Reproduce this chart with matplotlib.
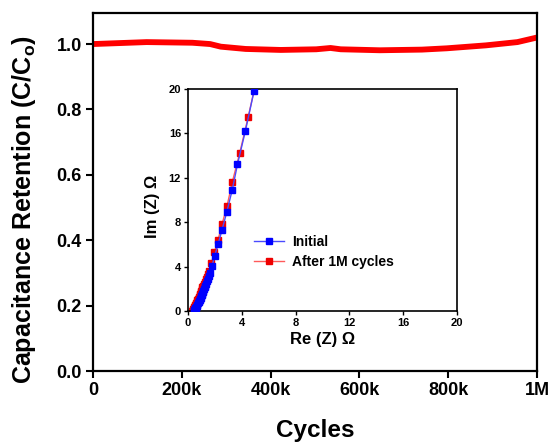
import numpy as np
import matplotlib.pyplot as plt
from matplotlib.ticker import FixedLocator, FixedFormatter

plt.rcParams['font.family'] = ['Liberation Sans', 'DejaVu Sans']
plt.rcParams['font.weight'] = 'bold'
plt.rcParams['mathtext.fontset'] = 'custom'
plt.rcParams['mathtext.bf'] = 'Liberation Sans:bold'
plt.rcParams['mathtext.rm'] = 'Liberation Sans:bold'

# cycling stability
cycles = [0, 121e3, 224e3, 264e3, 288e3, 344e3, 423e3, 503e3, 535e3,
          558e3, 646e3, 741e3, 797e3, 885e3, 956e3, 1000e3]
retention = [1.000, 1.006, 1.004, 1.000, 0.992, 0.985, 0.982, 0.984, 0.988,
             0.984, 0.981, 0.983, 0.987, 0.996, 1.006, 1.020]

# nyquist, initial
re_init = [0.42, 0.46, 0.50, 0.54, 0.58, 0.62, 0.66, 0.70, 0.74, 0.78, 0.82,
           0.86, 0.90, 0.94, 0.98, 1.02, 1.06, 1.10, 1.14, 1.18, 1.23, 1.28,
           1.34, 1.40, 1.47, 1.54, 1.61, 1.79, 1.99, 2.24, 2.53, 2.88, 3.28,
           3.68, 4.27, 4.92]
im_init = [0.00, 0.07, 0.15, 0.23, 0.31, 0.40, 0.49, 0.58, 0.68, 0.78, 0.88,
           0.99, 1.10, 1.21, 1.33, 1.45, 1.57, 1.70, 1.83, 1.96, 2.12, 2.28,
           2.47, 2.66, 2.89, 3.13, 3.41, 4.07, 4.98, 6.03, 7.30, 8.90, 10.86,
           13.21, 16.23, 19.85]

# nyquist, after 1M cycles
re_after = [0.30, 0.34, 0.38, 0.42, 0.46, 0.50, 0.54, 0.58, 0.62, 0.66, 0.70,
            0.74, 0.78, 0.82, 0.86, 0.90, 0.94, 0.98, 1.02, 1.07, 1.12, 1.18,
            1.24, 1.31, 1.38, 1.46, 1.54, 1.74, 1.96, 2.24, 2.53, 2.91, 3.30,
            3.85, 4.47, 5.05]
im_after = [0.00, 0.08, 0.16, 0.25, 0.34, 0.43, 0.53, 0.63, 0.73, 0.84, 0.95,
            1.06, 1.18, 1.30, 1.42, 1.55, 1.68, 1.82, 1.96, 2.12, 2.28, 2.46,
            2.64, 2.85, 3.07, 3.30, 3.56, 4.31, 5.28, 6.43, 7.81, 9.50, 11.64,
            14.24, 17.44, 20.6]

xticks = [0, 200e3, 400e3, 600e3, 800e3, 1000e3]
xticklabels = ['0', '200k', '400k', '600k', '800k', '1M']
yticks = [0.0, 0.2, 0.4, 0.6, 0.8, 1.0]

fig = plt.figure(figsize=(5.53, 4.42), dpi=100)
ax = fig.add_axes([0.168, 0.1606, 0.803, 0.81])
ax.plot(cycles, retention, color='#ff0000', lw=4.2, solid_capstyle='round')
ax.set_xlim(0, 1e6)
ax.set_ylim(0, 1.095)
ax.xaxis.set_major_locator(FixedLocator(xticks))
ax.xaxis.set_major_formatter(FixedFormatter(xticklabels))
ax.set_yticks(yticks)
ax.set_yticklabels(['%.1f' % v for v in yticks])
ax.tick_params(direction='out', length=5, width=1.5, labelsize=13, pad=3)
for s in ax.spines.values():
    s.set_linewidth(1.6)
ax.set_xlabel('Cycles', fontsize=17.5, fontweight='bold', labelpad=14)
ax.set_ylabel(r'Capacitance Retention (C/C$_\mathbf{o}$)', fontsize=18,
              fontweight='bold')
ax.yaxis.set_label_coords(-0.124, 0.45)

# inset
ins = fig.add_axes([0.340, 0.2964, 0.486, 0.5022])
ins.plot(re_after, im_after, '-s', color='#ff5a5a', mfc='#ee0000', mec='#ee0000',
         ms=5, lw=1.0, label='After 1M cycles', zorder=2)
ins.plot(re_init, im_init, '-s', color='#4a4aff', mfc='#0000ff', mec='#0000ff',
         ms=5, lw=1.0, label='Initial', zorder=3)
ins.set_xlim(0, 20)
ins.set_ylim(0, 20)
ins.set_xticks(np.arange(0, 21, 4))
ins.set_yticks(np.arange(0, 21, 4))
ins.tick_params(direction='out', length=3, width=1.0, labelsize=8, pad=2)
for s in ins.spines.values():
    s.set_linewidth(1.2)
ins.set_xlabel('Re (Z) Ω', fontsize=12, fontweight='bold', labelpad=3)
ins.set_ylabel('Im (Z) Ω', fontsize=12, fontweight='bold')
ins.yaxis.set_label_coords(-0.105, 0.47)
h, l = ins.get_legend_handles_labels()
ins.legend(h[::-1], l[::-1], loc='center left', bbox_to_anchor=(0.245, 0.267),
           frameon=False, fontsize=10, handlelength=2.2, handletextpad=0.55,
           labelspacing=0.45, borderpad=0, borderaxespad=0, markerscale=1.0)

fig.savefig('out.png', dpi=100)
